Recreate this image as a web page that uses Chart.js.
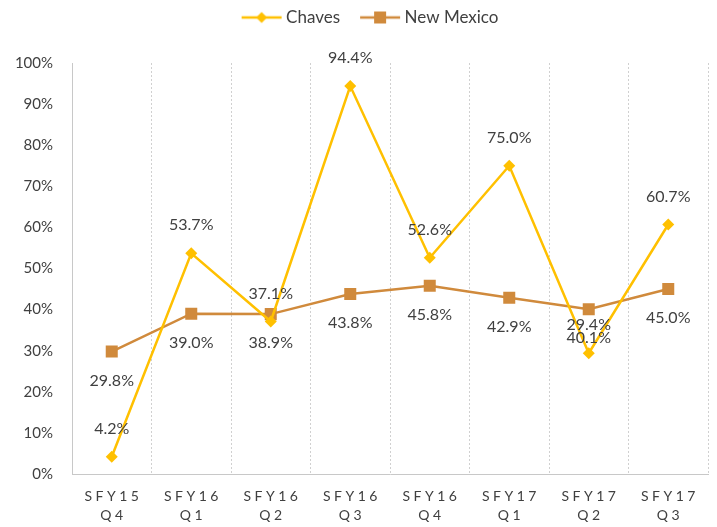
<!DOCTYPE html>
<html>
<head>
<meta charset="utf-8">
<script src="https://cdn.jsdelivr.net/npm/chart.js"></script>
<style>
  html, body { margin: 0; padding: 0; background: #fff; }
  #wrap { width: 717px; height: 527px; }
</style>
</head>
<body>
<div id="wrap"><canvas id="chart" width="717" height="527"></canvas></div>
<script>
  const quarters = [['SFY15', 'Q4'], ['SFY16', 'Q1'], ['SFY16', 'Q2'], ['SFY16', 'Q3'],
                    ['SFY16', 'Q4'], ['SFY17', 'Q1'], ['SFY17', 'Q2'], ['SFY17', 'Q3']];
  const chaves = [4.2, 53.7, 37.1, 94.4, 52.6, 75.0, 29.4, 60.7];
  const newMexico = [29.8, 39.0, 38.9, 43.8, 45.8, 42.9, 40.1, 45.0];

  const GOLD = '#FFC000';
  const TAN = '#D08A3C';
  const FONT = 'Lato, "Open Sans", sans-serif';
  const TEXT = '#404040';
  const LEGEND_H = 63;

  // legend swatch: short line with the marker in the middle
  function swatch(color, shape) {
    const c = document.createElement('canvas');
    c.width = 56; c.height = 14;
    const g = c.getContext('2d');
    g.strokeStyle = color; g.lineWidth = 2.5;
    g.beginPath(); g.moveTo(12, 7); g.lineTo(52, 7); g.stroke();
    g.fillStyle = color;
    g.beginPath();
    if (shape === 'diamond') {
      g.moveTo(32, 1.5); g.lineTo(37.5, 7); g.lineTo(32, 12.5); g.lineTo(26.5, 7);
    } else {
      g.rect(26, 1, 12, 12);
    }
    g.fill();
    return c;
  }

  // fixed band for the legend above the plot, nudged a little right and up
  const legendBand = {
    id: 'legendBand',
    beforeLayout(chart) {
      const lg = chart.legend;
      if (lg && !lg._banded) {
        const fit = lg.fit;
        lg.fit = function () { fit.call(this); this.height = LEGEND_H; };
        lg._banded = true;
      }
    },
    afterLayout(chart) {
      const lg = chart.legend;
      if (!lg) return;
      lg.left += 14; lg.right += 14;
      lg.top -= 7;
    }
  };

  // value labels above (Chaves) or below (New Mexico) each point
  const valueLabels = {
    id: 'valueLabels',
    afterDatasetsDraw(chart) {
      const ctx = chart.ctx;
      ctx.save();
      ctx.font = '16px ' + FONT;
      ctx.fillStyle = TEXT;
      ctx.textAlign = 'center';
      ctx.textBaseline = 'middle';
      chart.data.datasets.forEach((ds, i) => {
        const meta = chart.getDatasetMeta(i);
        const dy = i === 0 ? -28 : 29;
        meta.data.forEach((pt, j) => {
          ctx.fillText(ds.data[j].toFixed(1) + '%', pt.x, pt.y + dy);
        });
      });
      ctx.restore();
    }
  };

  // spaced-out category labels on the x axis
  const xLabels = {
    id: 'xLabels',
    afterDraw(chart) {
      const ctx = chart.ctx;
      const sx = chart.scales.x;
      ctx.save();
      ctx.font = '14px ' + FONT;
      ctx.fillStyle = TEXT;
      ctx.textAlign = 'center';
      ctx.textBaseline = 'middle';
      if ('letterSpacing' in ctx) ctx.letterSpacing = '3.5px';
      quarters.forEach((q, i) => {
        const x = sx.getPixelForTick(i) + 1.75;
        ctx.fillText(q[0], x, sx.bottom - 31);
        ctx.fillText(q[1], x, sx.bottom - 12);
      });
      ctx.restore();
    }
  };

  new Chart(document.getElementById('chart'), {
    type: 'line',
    data: {
      labels: quarters,
      datasets: [
        {
          label: 'Chaves', data: chaves,
          borderColor: GOLD, backgroundColor: GOLD, borderWidth: 2.5,
          pointStyle: 'rectRot', pointRadius: 6, pointHoverRadius: 6,
          pointBackgroundColor: GOLD, pointBorderWidth: 0, tension: 0
        },
        {
          label: 'New Mexico', data: newMexico,
          borderColor: TAN, backgroundColor: TAN, borderWidth: 2.5,
          pointStyle: 'rect', pointRadius: 8.5, pointHoverRadius: 8.5,
          pointBackgroundColor: TAN, pointBorderWidth: 0, tension: 0
        }
      ]
    },
    options: {
      responsive: false,
      animation: false,
      layout: { padding: { top: 0, right: 9, left: 0, bottom: 0 } },
      plugins: {
        legend: {
          position: 'top',
          labels: {
            font: { size: 17, family: FONT },
            color: TEXT,
            usePointStyle: true,
            pointStyleWidth: 40,
            padding: 16,
            generateLabels(chart) {
              return chart.data.datasets.map((ds, i) => ({
                text: ds.label,
                fillStyle: ds.borderColor,
                strokeStyle: ds.borderColor,
                fontColor: TEXT,
                pointStyle: swatch(ds.borderColor, i === 0 ? 'diamond' : 'square'),
                datasetIndex: i
              }));
            }
          }
        },
        tooltip: { enabled: false }
      },
      scales: {
        x: {
          offset: true,
          grid: { offset: true, color: '#D0D0D0', drawTicks: false },
          border: { color: '#C8C8C8', dash: [2, 2] },
          ticks: { color: 'rgba(0,0,0,0)', font: { size: 13, family: FONT } },
          afterFit(scale) { scale.height = 53; }
        },
        y: {
          min: 0, max: 100,
          grid: { display: false },
          border: { color: '#C8C8C8', display: true },
          ticks: {
            stepSize: 10, color: TEXT, padding: 11,
            font: { size: 15, family: FONT },
            callback: v => v + '%'
          },
          afterFit(scale) { scale.width = 72; }
        }
      }
    },
    plugins: [legendBand, valueLabels, xLabels]
  });
</script>
</body>
</html>
